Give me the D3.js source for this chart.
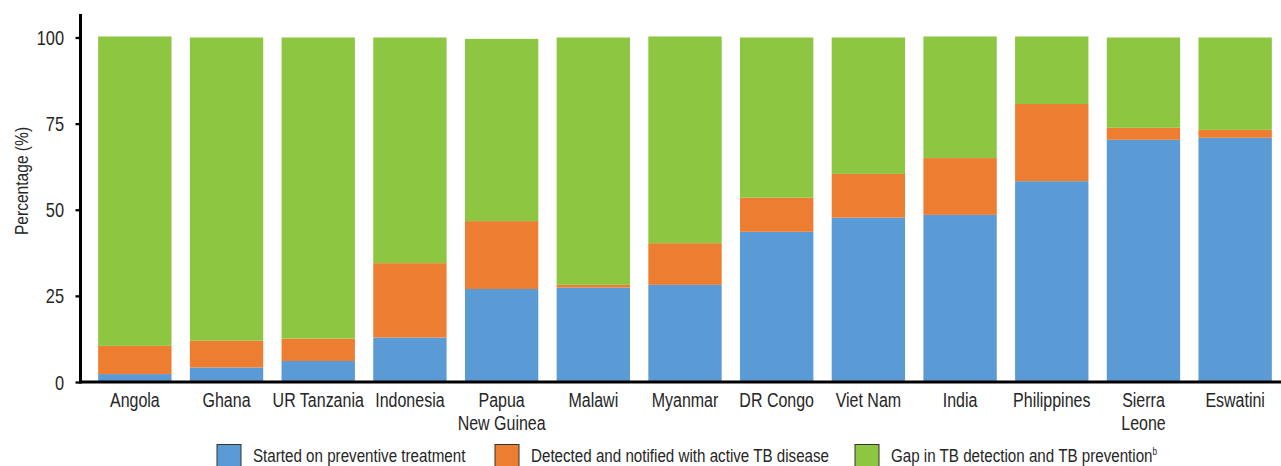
<!DOCTYPE html>
<html>
<head>
<meta charset="utf-8">
<script src="https://cdn.jsdelivr.net/npm/d3@7"></script>
<style>
  html, body { margin: 0; padding: 0; background: #fff; }
  svg { display: block; }
  text { font-family: "Liberation Sans", Arial, sans-serif; fill: #262626; }
</style>
</head>
<body>
<svg id="chart" width="1281" height="466"></svg>
<script>
const categories = ["Angola", "Ghana", "UR Tanzania", "Indonesia", "Papua\nNew Guinea", "Malawi", "Myanmar", "DR Congo", "Viet Nam", "India", "Philippines", "Sierra\nLeone", "Eswatini"];
const startedPreventive = [2.3, 4.2, 6.1, 12.9, 27.0, 27.4, 28.2, 43.6, 47.7, 48.5, 58.3, 70.3, 70.9];
const detectedActive    = [8.2, 7.8, 6.5, 21.6, 19.7, 0.8, 12.1, 9.9, 12.7, 16.5, 22.4, 3.5, 2.3];
const gapValues         = [89.8, 88.0, 87.4, 65.5, 52.9, 71.8, 60.0, 46.5, 39.6, 35.3, 19.6, 26.2, 26.8];
const seriesNames = ["Started on preventive treatment", "Detected and notified with active TB disease", "Gap in TB detection and TB prevention"];
const seriesColors = ["#5b9bd5", "#ed7d31", "#8dc641"];
const yTicks = [0, 25, 50, 75, 100];

const SX = 0.82; // condensed look
const svg = d3.select("#chart");

const rows = categories.map((c, i) => ({
  cat: c,
  s0: startedPreventive[i],
  s1: detectedActive[i],
  s2: gapValues[i]
}));
const keys = ["s0", "s1", "s2"];
const stacked = d3.stack().keys(keys)(rows);

const x = d3.scaleBand().domain(categories).range([89, 1281]).paddingInner(0.2).paddingOuter(0.1);
const y = d3.scaleLinear().domain([0, 100]).range([382, 37.5]);

// bars
svg.append("g").selectAll("g")
  .data(stacked).join("g")
  .attr("fill", (d, i) => seriesColors[i])
  .selectAll("rect")
  .data(d => d).join("rect")
  .attr("x", d => x(d.data.cat))
  .attr("width", x.bandwidth())
  .attr("y", d => y(d[1]))
  .attr("height", d => y(d[0]) - y(d[1]));

// y axis
const yAxis = svg.append("g")
  .attr("transform", "translate(80.5,0)")
  .call(d3.axisLeft(y).tickValues(yTicks).tickSize(5).tickFormat(d3.format("d")));
yAxis.select(".domain").remove();
yAxis.selectAll(".tick line").attr("stroke", "#000").attr("stroke-width", 2.3);
yAxis.selectAll(".tick text")
  .attr("x", 0).attr("dy", "0.35em")
  .attr("transform", `translate(-16.5,0) scale(${SX},1)`)
  .style("font-size", "20px")
  .style("font-family", '"Liberation Sans", Arial, sans-serif')
  .attr("fill", "#262626");
svg.append("line").attr("x1", 80.5).attr("x2", 80.5).attr("y1", 14).attr("y2", 383.5)
  .attr("stroke", "#000").attr("stroke-width", 3);

// x axis
const xAxis = svg.append("g").attr("transform", `translate(0,${y(0)})`)
  .call(d3.axisBottom(x).tickSize(0).tickFormat(""));
xAxis.select(".domain").remove();
svg.append("line").attr("x1", 79).attr("x2", 1281).attr("y1", y(0)).attr("y2", y(0))
  .attr("stroke", "#000").attr("stroke-width", 3);

xAxis.selectAll(".tick").each(function(d) {
  const t = d3.select(this).append("text")
    .attr("text-anchor", "middle")
    .attr("transform", `scale(${SX},1)`)
    .style("font-size", "19.5px")
    .attr("fill", "#262626");
  d.split("\n").forEach((line, i) => {
    t.append("tspan").attr("x", 0).attr("y", 25 + i * 23).text(line);
  });
});

// y title
svg.append("text")
  .attr("transform", `translate(28,181) rotate(-90) scale(${SX},1)`)
  .attr("text-anchor", "middle")
  .style("font-size", "19px")
  .text("Percentage (%)");

// legend
const legendX = [217, 495, 855];
const lg = svg.append("g");
seriesNames.forEach((name, i) => {
  const g = lg.append("g").attr("transform", `translate(${legendX[i]},444.5)`);
  g.append("rect").attr("width", 24).attr("height", 24).attr("fill", seriesColors[i])
    .attr("stroke", "#333").attr("stroke-width", 1);
  const t = g.append("text").attr("transform", `translate(36,17.5) scale(${SX},1)`)
    .style("font-size", "18.5px").text(name);
  if (i === 2) {
    t.append("tspan").attr("dy", -7).style("font-size", "10px").text("b");
  }
});
</script>
</body>
</html>
